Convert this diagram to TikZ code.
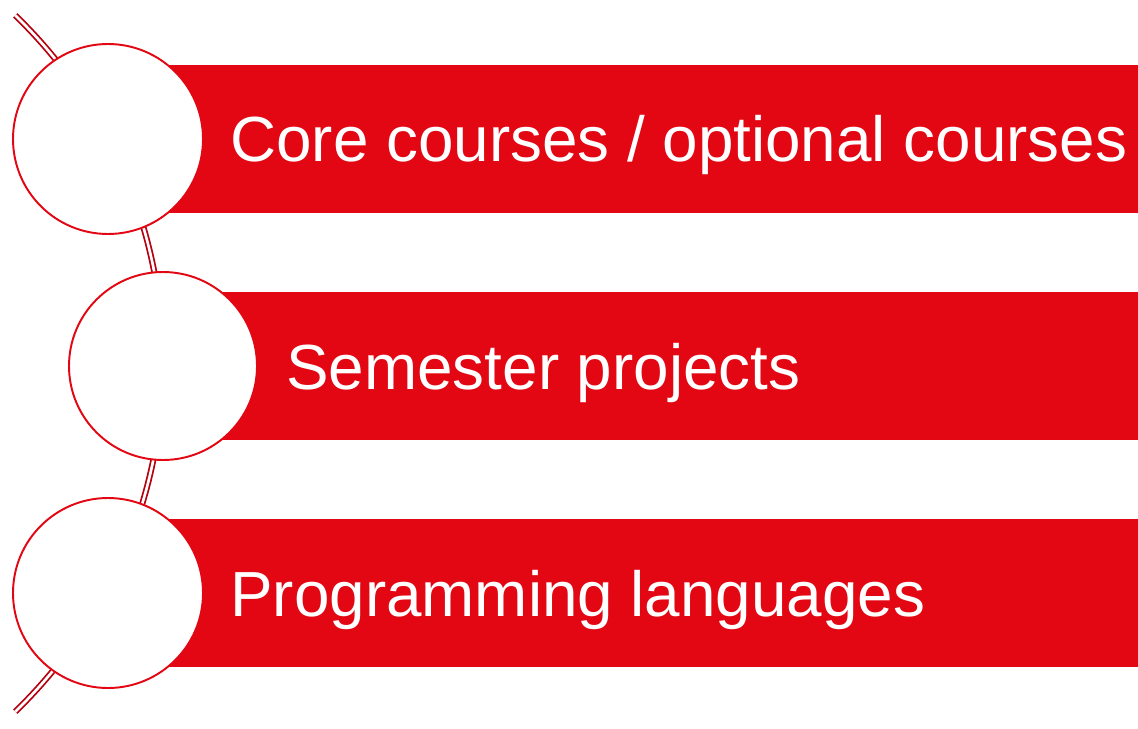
\documentclass[tikz,border=0pt]{standalone}
\usepackage{fontspec}
\setmainfont{Liberation Sans}
\usepackage{xcolor}
\usetikzlibrary{positioning,calc}
\definecolor{barred}{HTML}{E30613}
\definecolor{arcred}{HTML}{B5000E}

\begin{document}
\begin{tikzpicture}[
    x=0.02cm, y=0.02cm,
    bar/.style={rectangle, fill=barred, draw=none, minimum width=1030*0.02cm, minimum height=148*0.02cm, anchor=west, inner sep=0pt},
    disc/.style={circle, draw=barred, line width=1.1pt, fill=white, minimum size=#1*0.02cm, inner sep=0pt},
    disc/.default=190,
    label/.style={text=white, font=\fontsize{36.3}{42}\selectfont, anchor=base west, inner sep=0pt},
    rail/.style={draw=arcred, line width=1pt, double=white, double distance=1.5pt}
]
    % page frame
    \useasboundingbox (0,0) rectangle (1138,728);

    % the rail behind everything
    \draw[rail] (-321,364.5) ++(46:484) arc[start angle=46, end angle=-46, radius=484];

    % bars
    \node[bar] (bar1) at (108,589) {};
    \node[bar] (bar2) at (163,362) {};
    \node[bar] (bar3) at (108,135) {};

    % discs on top of the bars
    \node[disc] (c1) at (bar1.west) {};
    \node[disc=188] (c2) at (bar2.west) {};
    \node[disc] (c3) at (bar3.west) {};

    % labels
    \node[label] (t1) at (230,566) {Core courses / optional courses};
    \node[label] (t2) at (286,339) {Semester projects};
    \node[label] (t3) at (230,112) {Programming languages};

\end{tikzpicture}
\end{document}
